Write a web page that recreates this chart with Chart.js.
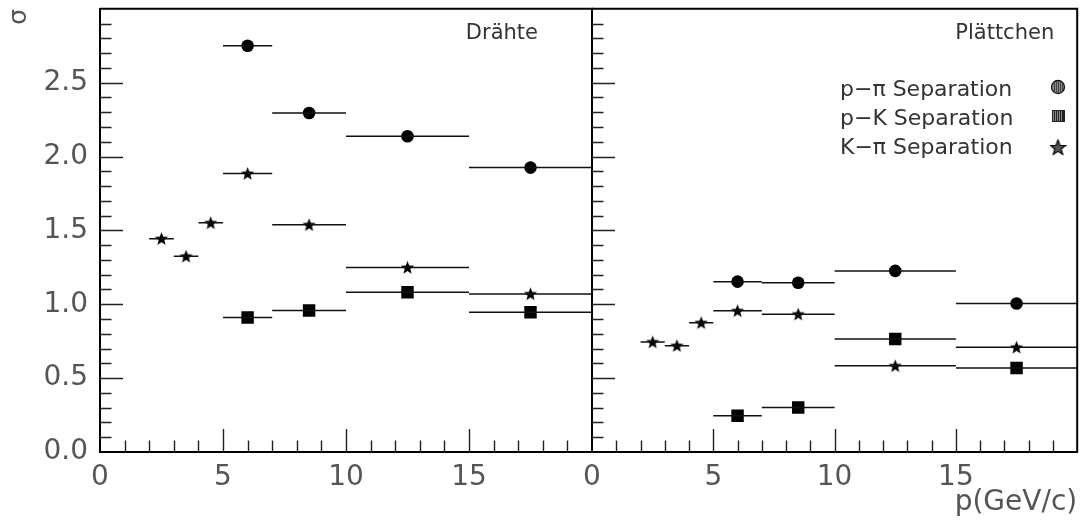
<!DOCTYPE html>
<html>
<head>
<meta charset="utf-8">
<script src="https://cdn.jsdelivr.net/npm/chart.js@4.4.1/dist/chart.umd.min.js"></script>
<style>
  html, body { margin: 0; padding: 0; background: #fff; }
  #wrap { position: relative; width: 1086px; height: 522px; }
  #wrap canvas { position: absolute; left: 0; top: 0; }
</style>
</head>
<body>
<div id="wrap">
  <canvas id="chart-left" width="1086" height="522"></canvas>
  <canvas id="chart-right" width="1086" height="522"></canvas>
</div>
<script>
// momentum bins (GeV/c)
const binLow = [2, 3, 4, 5, 7, 10, 15];
const binHigh = [3, 4, 5, 7, 10, 15, 20];
const binCenter = [2.5, 3.5, 4.5, 6, 8.5, 12.5, 17.5];

// Drähte
const wirePPi = [null, null, null, 2.75, 2.295, 2.137, 1.925];
const wirePK = [null, null, null, 0.911, 0.958, 1.081, 0.946];
const wireKPi = [1.444, 1.325, 1.551, 1.885, 1.538, 1.249, 1.07];

// Plättchen
const platePPi = [null, null, null, 1.153, 1.146, 1.226, 1.005];
const platePK = [null, null, null, 0.245, 0.301, 0.765, 0.568];
const plateKPi = [0.745, 0.72, 0.875, 0.956, 0.933, 0.583, 0.709];

const xTickLabels = ["0", "5", "10", "15"];
const yTickLabels = ["0.0", "0.5", "1.0", "1.5", "2.0", "2.5"];
const legendLabels = ["p\u2212\u03c0 Separation", "p\u2212K Separation", "K\u2212\u03c0 Separation"];

const FONT = "'DejaVu Sans', 'Liberation Sans', sans-serif";

// filled five point star for the K-pi points
function makeStar(size, fill, stroke) {
  const c = document.createElement("canvas");
  c.width = size;
  c.height = size;
  const g = c.getContext("2d");
  const cx = size / 2, cy = size / 2 + 0.5;
  const ro = size / 2 - 0.5, ri = ro * 0.42;
  g.beginPath();
  for (let i = 0; i < 10; i++) {
    const r = i % 2 === 0 ? ro : ri;
    const a = -Math.PI / 2 + (i * Math.PI) / 5;
    const px = cx + r * Math.cos(a), py = cy + r * Math.sin(a);
    if (i === 0) g.moveTo(px, py);
    else g.lineTo(px, py);
  }
  g.closePath();
  g.fillStyle = fill;
  g.fill();
  if (stroke) {
    g.strokeStyle = stroke;
    g.lineWidth = 1.2;
    g.stroke();
  }
  return c;
}
const starImg = makeStar(15, "#000");
const legendStar = makeStar(17, "#555", "#000");

function points(values) {
  const out = [];
  values.forEach((v, i) => {
    if (v !== null) out.push({ x: binCenter[i], y: v });
  });
  return out;
}

// horizontal bars for the bin widths, broken between bins
function binBars(values) {
  const out = [];
  values.forEach((v, i) => {
    if (v === null) return;
    out.push({ x: binLow[i], y: v });
    out.push({ x: binHigh[i], y: v });
    out.push({ x: binHigh[i], y: null });
  });
  return out;
}

function datasets(ppi, pk, kpi) {
  const bar = (vals) => ({
    type: "line",
    data: binBars(vals),
    borderColor: "#111",
    borderWidth: 1.5,
    pointRadius: 0,
    spanGaps: false,
    fill: false,
  });
  return [
    bar(ppi),
    bar(pk),
    bar(kpi),
    {
      type: "scatter",
      data: points(ppi),
      pointStyle: "circle",
      pointRadius: 6.3,
      backgroundColor: "#000",
      borderWidth: 0,
    },
    {
      type: "scatter",
      data: points(pk),
      pointStyle: "rect",
      pointRadius: 8.8,
      backgroundColor: "#000",
      borderWidth: 0,
    },
    {
      type: "scatter",
      data: points(kpi),
      pointStyle: starImg,
      backgroundColor: "#000",
    },
  ];
}

// inner ticks and frame, PAW style
const frameTicks = {
  id: "frameTicks",
  afterDraw(chart) {
    const { ctx, chartArea: a, scales: { x, y } } = chart;
    ctx.save();
    ctx.strokeStyle = "#222";
    ctx.lineWidth = 1.4;
    ctx.beginPath();
    for (let v = 1; v < 30; v++) {
      const py = Math.round(y.getPixelForValue(v / 10)) + 0.5;
      const len = v % 5 === 0 ? 23 : 11.5;
      ctx.moveTo(a.left, py);
      ctx.lineTo(a.left + len, py);
    }
    for (let v = 1; v < 20; v++) {
      const px = Math.round(x.getPixelForValue(v)) + 0.5;
      const len = v % 5 === 0 ? 23 : 11.5;
      ctx.moveTo(px, a.bottom);
      ctx.lineTo(px, a.bottom - len);
    }
    ctx.stroke();
    ctx.strokeStyle = "#000";
    ctx.lineWidth = 2;
    ctx.beginPath();
    ctx.moveTo(a.left, a.top);
    ctx.lineTo(a.right, a.top);
    ctx.lineTo(a.right, a.bottom);
    ctx.stroke();
    ctx.restore();
  },
};

const panelLabel = {
  id: "panelLabel",
  afterDraw(chart, args, opts) {
    const { ctx, chartArea: a } = chart;
    ctx.save();
    ctx.fillStyle = "#333";
    ctx.font = "21px " + FONT;
    ctx.textAlign = "right";
    ctx.textBaseline = "alphabetic";
    ctx.fillText(opts.text, a.right - opts.inset, a.top + 30);
    if (opts.legend) {
      ctx.font = "22px " + FONT;
      ctx.textAlign = "left";
      const rows = [96, 125, 154];
      legendLabels.forEach((t, i) => ctx.fillText(t, 840, rows[i]));
      const mx = 1058;
      // circle
      ctx.beginPath();
      ctx.arc(mx, 87, 6.5, 0, Math.PI * 2);
      ctx.fillStyle = "#888";
      ctx.fill();
      ctx.strokeStyle = "#111";
      ctx.lineWidth = 1.3;
      ctx.stroke();
      ctx.strokeStyle = "#444";
      ctx.lineWidth = 1;
      ctx.beginPath();
      for (let k = -4; k <= 4; k += 2) {
        const h = Math.sqrt(Math.max(0, 36 - k * k));
        ctx.moveTo(mx + k + 0.5, 87 - h);
        ctx.lineTo(mx + k + 0.5, 87 + h);
      }
      ctx.stroke();
      // square
      ctx.fillStyle = "#888";
      ctx.fillRect(mx - 6, 110, 12, 12);
      ctx.strokeStyle = "#222";
      ctx.beginPath();
      for (let k = -6; k <= 6; k += 2) {
        ctx.moveTo(mx + k + 0.5, 110);
        ctx.lineTo(mx + k + 0.5, 122);
      }
      ctx.stroke();
      ctx.strokeRect(mx - 6 + 0.5, 110.5, 11, 11);
      // star
      ctx.drawImage(legendStar, mx - 8.5, 139);
    }
    ctx.restore();
  },
};

function makeOptions(side) {
  const left = side === "left";
  return {
    responsive: false,
    animation: false,
    layout: {
      padding: left
        ? { left: 0, right: 1086 - 592, top: 5, bottom: 0 }
        : { left: 592, right: 2, top: 5, bottom: 0 },
    },
    plugins: {
      legend: { display: false },
      tooltip: { enabled: false },
      panelLabel: left
        ? { text: "Dr\u00e4hte", inset: 54, legend: false }
        : { text: "Pl\u00e4ttchen", inset: 23, legend: true },
    },
    scales: {
      x: {
        type: "linear",
        min: 0,
        max: 20,
        afterFit: (s) => {
          s.height = 70;
          s.paddingLeft = 0;
          s.paddingRight = 0;
        },
        grid: { display: false, drawTicks: false },
        border: { display: true, color: "#000", width: 2 },
        ticks: {
          stepSize: 5,
          padding: 9,
          color: "#555",
          font: { family: FONT, size: 28 },
          maxRotation: 0,
          callback: (v) => xTickLabels[v / 5] || "",
        },
        title: {
          display: !left,
          text: "p(GeV/c)",
          align: "end",
          color: "#555",
          font: { family: FONT, size: 28 },
          padding: { top: 0, bottom: 2 },
        },
      },
      y: {
        type: "linear",
        min: 0,
        max: 3,
        afterFit: (s) => {
          s.width = left ? 100 : 0;
          s.paddingTop = 0;
          s.paddingBottom = 0;
        },
        grid: { display: false, drawTicks: false },
        border: { display: true, color: "#000", width: 2 },
        ticks: {
          display: left,
          stepSize: 0.5,
          padding: 12,
          color: "#555",
          font: { family: FONT, size: 28 },
          callback: (v) => yTickLabels[Math.round(v * 2)] || "",
        },
        title: {
          display: left,
          text: "\u03c3",
          align: "end",
          color: "#555",
          font: { family: FONT, size: 25 },
          padding: { top: 4, bottom: 0 },
        },
      },
    },
  };
}

new Chart(document.getElementById("chart-left").getContext("2d"), {
  type: "scatter",
  data: { datasets: datasets(wirePPi, wirePK, wireKPi) },
  options: makeOptions("left"),
  plugins: [frameTicks, panelLabel],
});

new Chart(document.getElementById("chart-right").getContext("2d"), {
  type: "scatter",
  data: { datasets: datasets(platePPi, platePK, plateKPi) },
  options: makeOptions("right"),
  plugins: [frameTicks, panelLabel],
});
</script>
</body>
</html>
